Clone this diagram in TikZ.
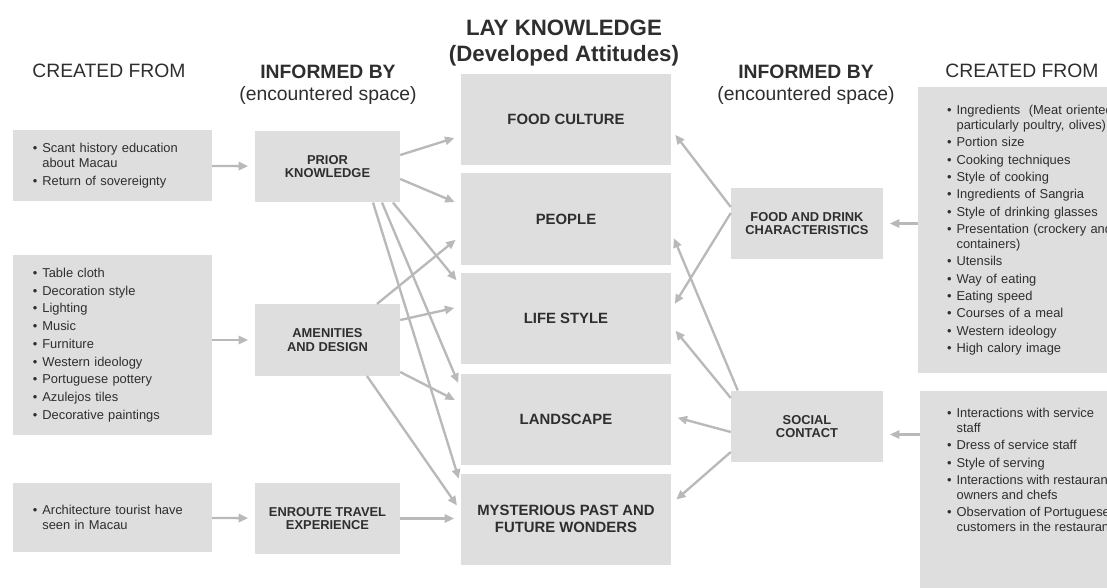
\documentclass[tikz,border=0pt]{standalone}
\usepackage{fontspec}
\setmainfont{Liberation Sans}
\usetikzlibrary{calc,arrows.meta}

\definecolor{boxgray}{HTML}{DEDEDE}
\definecolor{linkgray}{HTML}{B9B9B9}
\definecolor{ink}{HTML}{2E2E2E}

% bullet line and its continuation
\newcommand{\bitem}[1]{\makebox[8pt][l]{\textbullet}#1}
\newcommand{\bmore}[1]{\hspace*{8pt}#1}

\tikzset{
  head/.style={text=ink, align=center, font=\fontsize{16.5}{19}\selectfont},
  list/.style={text=ink, align=left, font=\fontsize{11}{12.8}\selectfont},
  srcbox/.style={list, fill=boxgray, inner xsep=0.6cm, text width=4.77cm},
  infobox/.style={fill=boxgray, text=ink, align=center, minimum width=4.35cm,
    minimum height=2.15cm, font=\fontsize{11}{11.8}\selectfont\bfseries},
  laybox/.style={fill=boxgray, text=ink, align=center, minimum width=6.3cm,
    minimum height=2.73cm, font=\fontsize{12.7}{14}\selectfont\bfseries},
  link/.style={draw=linkgray, line width=2pt,
    -{Triangle[length=8pt,width=7pt]}, shorten >=0.2cm},
}

\begin{document}
\begin{tikzpicture}[x=0.03cm, y=-0.03cm]
  \useasboundingbox (0,0) rectangle (1107,588);
  \clip (0,0) rectangle (1107,588);

  % column heads
  \node[head] (left from) at (109,71) {CREATED FROM};
  \node[head] (left by) at (328,85) {\textbf{INFORMED BY}\\(encountered space)};
  \node[head, font=\fontsize{19}{22}\selectfont\bfseries] (lay head) at (564,43)
    {LAY KNOWLEDGE\\(Developed Attitudes)};
  \node[head] (right by) at (806,85) {\textbf{INFORMED BY}\\(encountered space)};
  \node[head] (right from) at (1022,71) {CREATED FROM};

  % lay knowledge
  \node[laybox] (food) at (566,119.5) {FOOD CULTURE};
  \node[laybox] (people) at (566,219) {PEOPLE};
  \node[laybox] (life) at (566,318.5) {LIFE STYLE};
  \node[laybox] (land) at (566,419) {LANDSCAPE};
  \node[laybox] (myst) at (566,519) {MYSTERIOUS PAST AND\\FUTURE WONDERS};

  % informed by
  \node[infobox] (prior) at (327.5,166.5) {PRIOR\\KNOWLEDGE};
  \node[infobox] (amen) at (327.5,340) {AMENITIES\\AND DESIGN};
  \node[infobox] (enroute) at (327.5,518.5) {ENROUTE TRAVEL\\EXPERIENCE};
  \node[infobox, minimum width=4.56cm] (fdrink) at (807,223.5)
    {FOOD AND DRINK\\CHARACTERISTICS};
  \node[infobox, minimum width=4.56cm] (social) at (807,426.5) {SOCIAL\\CONTACT};

  % created from, left
  \node[srcbox, minimum height=2.13cm] (hist) at (112.5,165.5)
    {\bitem{Scant history education}\\ \bmore{about Macau}\\[2pt]
     \bitem{Return of sovereignty}};
  \node[srcbox, minimum height=5.4cm] (decor) at (112.5,345)
    {\bitem{Table cloth}\\[2.3pt] \bitem{Decoration style}\\[2.3pt]
     \bitem{Lighting}\\[2.3pt] \bitem{Music}\\[2.3pt] \bitem{Furniture}\\[2.3pt]
     \bitem{Western ideology}\\[2.3pt] \bitem{Portuguese pottery}\\[2.3pt]
     \bitem{Azulejos tiles}\\[2.3pt] \bitem{Decorative paintings}};
  \node[srcbox, minimum height=2.07cm] (arch) at (112.5,517.5)
    {\bitem{Architecture tourist have}\\ \bmore{seen in Macau}};

  % created from, right
  \node[srcbox, text width=7cm, inner xsep=0.87cm, minimum height=8.58cm,
    anchor=north west] (fdlist) at (918,87)
    {\bitem{Ingredients~~(Meat oriented}\\ \bmore{particularly poultry, olives)}\\[2pt]
     \bitem{Portion size}\\[2pt] \bitem{Cooking techniques}\\[2pt]
     \bitem{Style of cooking}\\[2pt] \bitem{Ingredients of Sangria}\\[2pt]
     \bitem{Style of drinking glasses}\\[2pt]
     \bitem{Presentation (crockery and}\\ \bmore{containers)}\\[2pt]
     \bitem{Utensils}\\[2pt] \bitem{Way of eating}\\[2pt] \bitem{Eating speed}\\[2pt]
     \bitem{Courses of a meal}\\[2pt] \bitem{Western ideology}\\[2pt]
     \bitem{High calory image}};
  \node[fill=boxgray, minimum width=6cm, minimum height=6.6cm, anchor=north west]
    (soc src) at (920,391) {};
  \node[list, inner sep=0pt, anchor=north west] (soc list) at (947,408)
    {\bitem{Interactions with service}\\ \bmore{staff}\\[2pt]
     \bitem{Dress of service staff}\\[2pt] \bitem{Style of serving}\\[2pt]
     \bitem{Interactions with restaurant}\\ \bmore{owners and chefs}\\[2pt]
     \bitem{Observation of Portuguese}\\ \bmore{customers in the restaurant}};

  % into the informed-by boxes
  \draw[link] (hist) -- (prior);
  \draw[link] (decor.east |- amen) -- (amen);
  \draw[link] (arch) -- (enroute);
  \draw[link] (fdlist.west |- fdrink) -- (fdrink);
  \draw[link] ($(soc src.west |- social)+(0,8)$) -- ($(social.east)+(0,8)$);

  % left side into lay knowledge
  \draw[link] ($(prior.east)+(0,-11.5)$) -- ($(food.west)+(0,16.5)$);
  \draw[link] ($(prior.east)+(0,12.5)$) -- ($(people.west)+(0,-14.4)$);
  \draw[link] ($(prior.south)+(65.5,0)$) -- ($(life.west)+(0,-33)$);
  \draw[link] ($(prior.south)+(54.5,0)$) -- ($(land.west)+(0,-30)$);
  \draw[link] ($(prior.south)+(45.5,0)$) -- ($(myst.west)+(0,-34)$);
  \draw[link] ($(amen.north)+(49.5,0)$) -- ($(people.west)+(0,16.6)$);
  \draw[link] ($(amen.east)+(0,-20)$) -- ($(life.west)+(0,-12)$);
  \draw[link] ($(amen.east)+(0,32)$) -- ($(land.west)+(0,-16)$);
  \draw[link] ($(amen.south)+(39.5,0)$) -- ($(myst.west)+(0,-8)$);
  \draw[link] (enroute) -- (enroute -| myst.west);

  % right side into lay knowledge
  \draw[link] ($(fdrink.west)+(0,-16.5)$) -- ($(food.east)+(0,10)$);
  \draw[link] ($(fdrink.west)+(0,-10.5)$) -- ($(life.east)+(0,-9)$);
  \draw[link] ($(social.north west)+(7,0)$) -- ($(people.east)+(0,13)$);
  \draw[link] ($(social.west)+(0,-28.5)$) -- ($(life.east)+(0,7)$);
  \draw[link] ($(social.west)+(0,5.5)$) -- ($(land.east)+(0,-3)$);
  \draw[link] ($(social.west)+(0,25.5)$) -- ($(myst.east)+(0,-15)$);
\end{tikzpicture}
\end{document}
